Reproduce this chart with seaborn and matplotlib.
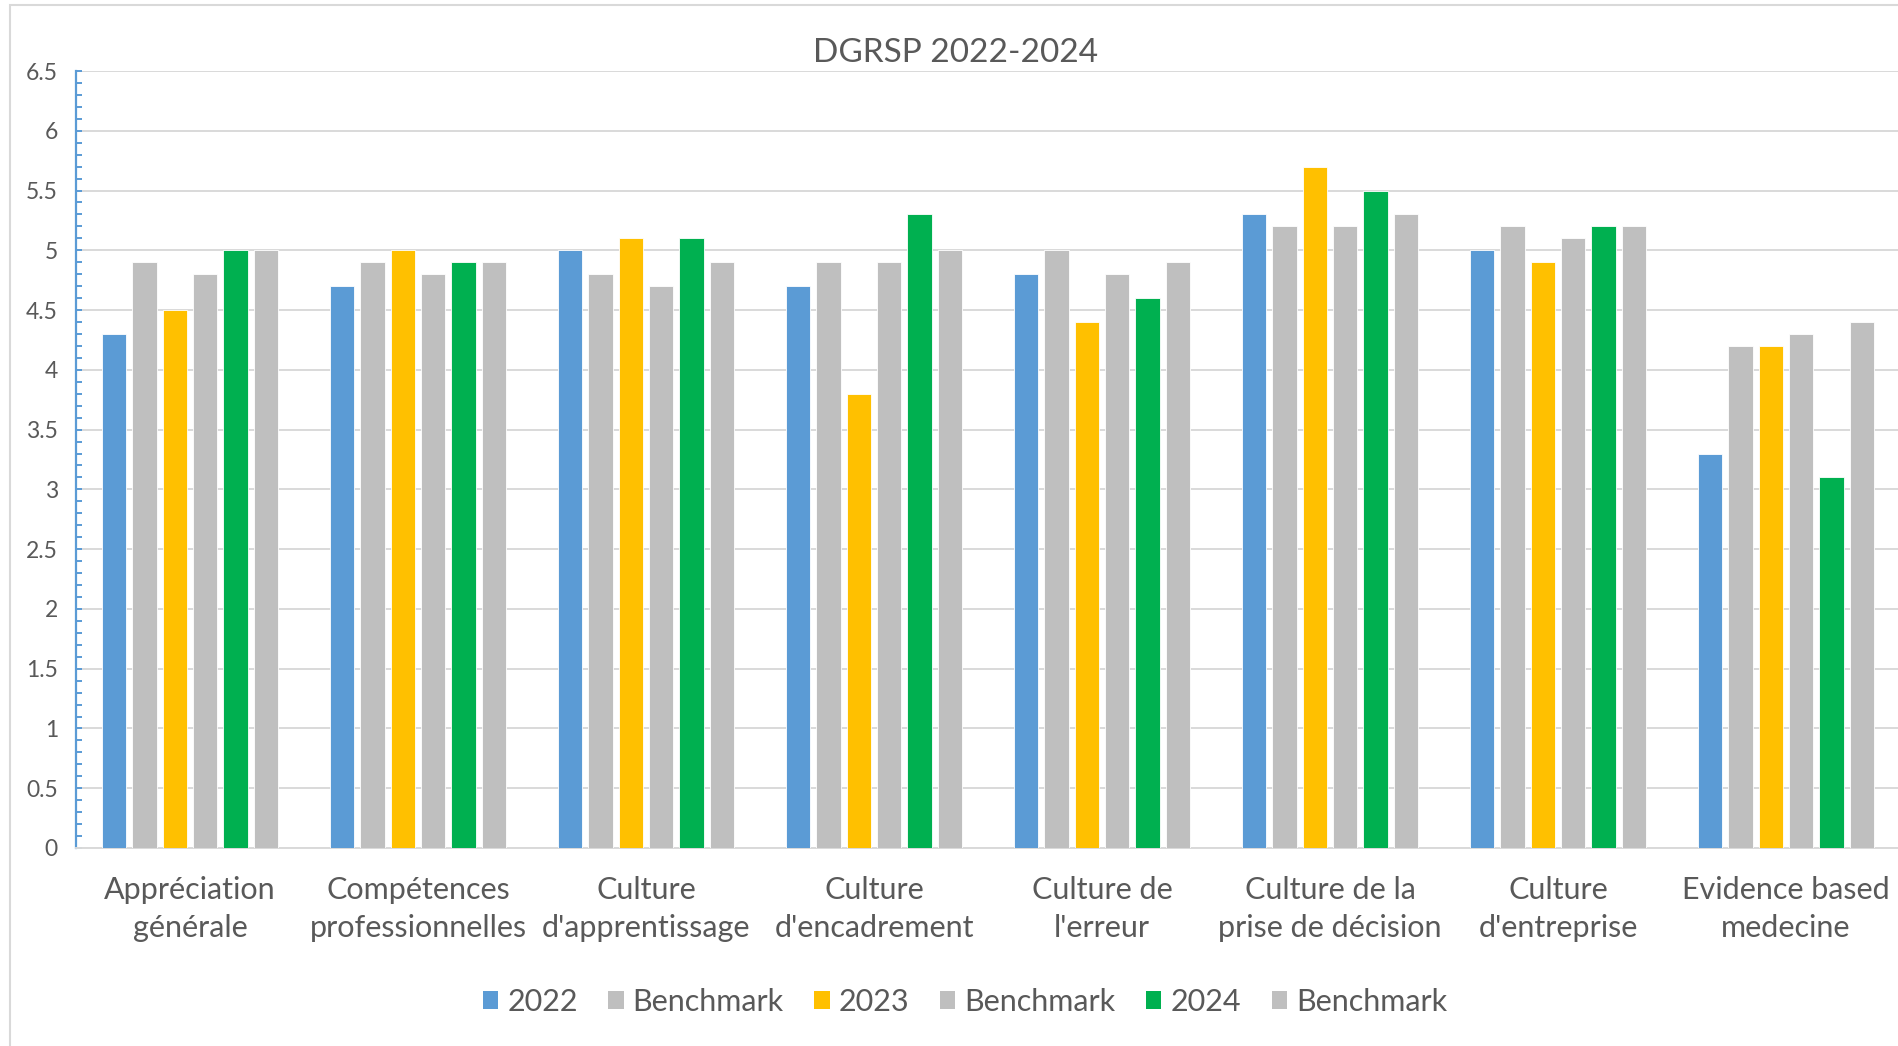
import pandas as pd
import numpy as np
import matplotlib.pyplot as plt
import seaborn as sns
from matplotlib.patches import Patch, Rectangle

# =========================
# Data
# =========================
categories = [
    "Appréciation\ngénérale",
    "Compétences\nprofessionnelles",
    "Culture\nd'apprentissage",
    "Culture\nd'encadrement",
    "Culture de\nl'erreur",
    "Culture de la\nprise de décision",
    "Culture\nd'entreprise",
    "Evidence based\nmedecine",
]
series_keys = ["2022", "Bench 2022", "2023", "Bench 2023", "2024", "Bench 2024"]
series_labels = ["2022", "Benchmark", "2023", "Benchmark", "2024", "Benchmark"]

v2022 = [4.3, 4.7, 5.0, 4.7, 4.8, 5.3, 5.0, 3.3]
bench2022 = [4.9, 4.9, 4.8, 4.9, 5.0, 5.2, 5.2, 4.2]
v2023 = [4.5, 5.0, 5.1, 3.8, 4.4, 5.7, 4.9, 4.2]
bench2023 = [4.8, 4.8, 4.7, 4.9, 4.8, 5.2, 5.1, 4.3]
v2024 = [5.0, 4.9, 5.1, 5.3, 4.6, 5.5, 5.2, 3.1]
bench2024 = [5.0, 4.9, 4.9, 5.0, 4.9, 5.3, 5.2, 4.4]

colors = ["#5B9BD5", "#BFBFBF", "#FFC000", "#BFBFBF", "#00B050", "#BFBFBF"]

values = [v2022, bench2022, v2023, bench2023, v2024, bench2024]
rows = []
for key, vals in zip(series_keys, values):
    for cat, v in zip(categories, vals):
        rows.append({"category": cat, "series": key, "value": v})
df = pd.DataFrame(rows)

# =========================
# Style
# =========================
sns.set_style("white")
plt.rcParams["font.family"] = ["Lato", "DejaVu Sans"]
text_col = "#595959"
grid_col = "#D9D9D9"

fig = plt.figure(figsize=(18.98, 10.46), dpi=100)
fig.patches.append(Rectangle((10 / 1898, -0.5), 2.0, 1.5 - 5 / 1046,
                             transform=fig.transFigure, fill=False,
                             edgecolor=grid_col, linewidth=1.5, zorder=0))
ax = fig.add_axes([76 / 1898, 1 - 848 / 1046, 1824 / 1898, 777 / 1046])

sns.barplot(data=df, x="category", y="value", hue="series",
            order=categories, hue_order=series_keys,
            palette=colors, saturation=1, width=0.8, gap=0.2, legend=False,
            edgecolor="white", linewidth=0.6, ax=ax, zorder=3)

# =========================
# Axes
# =========================
ax.set_ylim(0, 6.5)
ax.set_xlim(-0.5, 7.5)
ax.set_yticks(np.arange(0, 6.51, 0.5))
ax.set_yticklabels(["0", "0.5", "1", "1.5", "2", "2.5", "3", "3.5",
                    "4", "4.5", "5", "5.5", "6", "6.5"])
ax.set_yticks(np.arange(0, 6.51, 0.1), minor=True)
ax.yaxis.grid(True, which="major", color=grid_col, linewidth=1.4, zorder=0)
ax.set_axisbelow(True)
ax.set_xlabel("")
ax.set_ylabel("")

for s in ["top", "right"]:
    ax.spines[s].set_visible(False)
ax.spines["left"].set_color("#5B9BD5")
ax.spines["left"].set_linewidth(1.6)
ax.spines["bottom"].set_color(grid_col)
ax.spines["bottom"].set_linewidth(1.4)

ax.tick_params(axis="y", which="both", left=True, direction="in", length=4.5,
               width=1.4, color="#5B9BD5", labelsize=16.5, labelcolor=text_col,
               pad=13)
ax.tick_params(axis="x", bottom=False, length=0, labelsize=22,
               labelcolor=text_col, pad=20)
for lab in ax.get_xticklabels():
    lab.set_linespacing(1.45)

# =========================
# Title and legend
# =========================
fig.text(956 / 1898, 1 - 62 / 1046, "DGRSP 2022-2024", ha="center",
         va="baseline", fontsize=24, color=text_col)

handles = [Patch(facecolor=c, edgecolor="none") for c in colors]
fig.legend(handles, series_labels, loc="center", ncol=6,
           bbox_to_anchor=(965 / 1898, 1 - 1002 / 1046), frameon=False,
           fontsize=22, labelcolor=text_col, handlelength=0.5,
           handleheight=0.55, handletextpad=0.3, columnspacing=1.0)

plt.savefig("out.png", dpi=100)
